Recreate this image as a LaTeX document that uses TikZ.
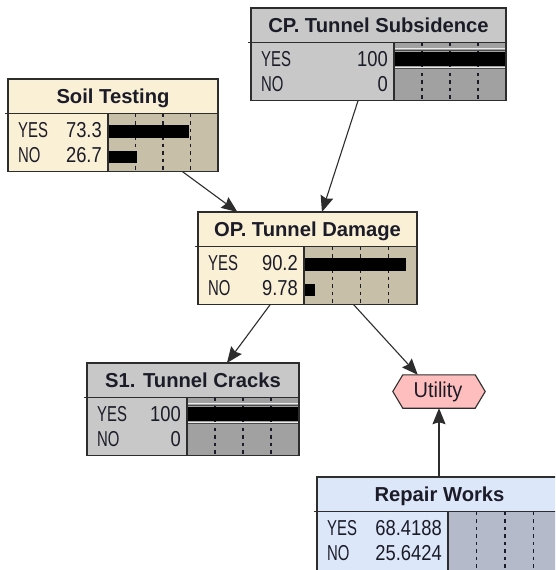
\documentclass[tikz,border=0pt]{standalone}
\usepackage{fontspec}
\setmainfont{Liberation Sans}
\newfontfamily\lblfont{Liberation Sans}[FakeStretch=0.69]
\newfontfamily\numfont{Liberation Sans}[FakeStretch=0.85]
\newfontfamily\valfont{Liberation Sans}[FakeStretch=0.93]
\usetikzlibrary{calc,arrows.meta}

\definecolor{creamhead}{RGB}{250,240,214}
\definecolor{creambar}{RGB}{200,191,168}
\definecolor{greyhead}{RGB}{200,200,200}
\definecolor{greybar}{RGB}{161,161,161}
\definecolor{bluehead}{RGB}{221,231,250}
\definecolor{bluebar}{RGB}{180,186,202}
\definecolor{utilfill}{RGB}{255,190,190}
\definecolor{edge}{RGB}{45,45,45}
\definecolor{ink}{RGB}{28,28,40}

\tikzset{
  boxline/.style={draw=edge, line width=1.2pt},
  tick/.style={draw=ink, line width=1.2pt, dash pattern=on 3.5pt off 4pt},
  arr/.style={draw=edge, line width=1.1pt, -{Stealth[length=16pt,width=13pt,inset=2pt]}},
  title/.style={font=\fontsize{20.2}{24}\selectfont\bfseries, text=ink, inner sep=0pt, anchor=base},
  lbl/.style={font=\fontsize{21.6}{24}\selectfont\lblfont, text=ink, inner sep=0pt, anchor=base west},
  num/.style={font=\fontsize{21.6}{24}\selectfont\numfont, text=ink, inner sep=0pt, anchor=base east},
}

% height of a belief box
\newcommand\boxheight{92.5}

% #1 name, #2 top-left corner, #3 width, #4 width of the state column,
% #5 title, #6 colour scheme, #7 YES value, #8 NO value
\newcommand\beliefnode[8]{%
  \node[fill=#6head, draw=none, minimum width=#3pt, minimum height=\boxheight pt,
        anchor=north west, inner sep=0pt, outer sep=0pt] (#1) at (#2) {};
  \coordinate (#1-hl) at ($(#1.north west)+(0,-34.5)$);
  \coordinate (#1-hr) at ($(#1.north east)+(0,-34.5)$);
  \coordinate (#1-bl) at ($(#1-hl)+(#4,0)$);
  \coordinate (#1-bb) at ($(#1.south west)+(#4,0)$);
  \fill[#6bar] (#1-bl) rectangle (#1.south east);
  \foreach \f in {0.25,0.5,0.75}
    \draw[tick] ($(#1-bl)!\f!(#1-hr)$) -- ($(#1-bb)!\f!(#1.south east)$);
  \node[title] (#1-title) at ($(#1.north)+(0,-24)$) {#5};
  \node[lbl] (#1-yes) at ($(#1-hl)+(10,-23.5)$) {YES};
  \node[lbl] (#1-no) at ($(#1-hl)+(10,-48.5)$) {NO};
  \node[num] (#1-yesv) at ($(#1-bl)+(-6,-23.5)$) {#7};
  \node[num] (#1-nov) at ($(#1-bl)+(-6,-48.5)$) {#8};
}

% outline drawn after the bars
\newcommand\beliefframe[1]{%
  \draw[boxline] (#1.north west) rectangle (#1.south east);
  \draw[boxline] ($(#1-hl)+(-3,0)$) -- (#1-hr);
  \draw[boxline] (#1-bl) -- (#1-bb);
}

% #1 node, #2 row (0 = YES, 1 = NO), #3 probability as a fraction
\newcommand\probbar[3]{%
  \fill[black] ($(#1-bl)+(0,{-11.5-25.5*#2})$) rectangle ($(#1-bl)!#3!(#1-hr)+(0,{-24-25.5*#2})$);
}

% a state set by evidence: full black bar in a sunken frame
\newcommand\evidbar[1]{%
  \fill[black] ($(#1-bl)+(0,-9.7)$) rectangle ($(#1-hr)+(0,-23.7)$);
  \draw[white!80!greybar, line width=0.9pt] ($(#1-bl)+(0,-6.3)$) -- ($(#1-hr)+(0,-6.3)$);
  \draw[black!70, line width=0.8pt] ($(#1-bl)+(0,-8)$) -- ($(#1-hr)+(0,-8)$);
  \draw[white!80!greybar, line width=0.9pt] ($(#1-bl)+(0,-24.7)$) -- ($(#1-hr)+(0,-24.7)$);
  \draw[black!70, line width=0.8pt] ($(#1-bl)+(0,-26.1)$) -- ($(#1-hr)+(0,-26.1)$);
}

\begin{document}
\begin{tikzpicture}[x=1pt,y=1pt]
  \useasboundingbox (0,0) rectangle (555,-570);
  \fill[white] (0,0) rectangle (555,-570);
  \clip (0,0) rectangle (555,-570);

  % Soil Testing
  \beliefnode{soil}{8,-79}{210}{100}{Soil Testing}{cream}{73.3}{26.7}
  \probbar{soil}{0}{0.733}
  \probbar{soil}{1}{0.267}
  \beliefframe{soil}

  % CP. Tunnel Subsidence
  \beliefnode{cp}{251,-8}{255}{143}{CP. Tunnel Subsidence}{grey}{100}{0}
  \evidbar{cp}
  \beliefframe{cp}

  % OP. Tunnel Damage
  \beliefnode{op}{198,-212}{219}{106}{OP. Tunnel Damage}{cream}{90.2}{9.78}
  \probbar{op}{0}{0.902}
  \probbar{op}{1}{0.0978}
  \beliefframe{op}

  % S1. Tunnel Cracks
  \beliefnode{s1}{87,-363}{212}{100}{S1. Tunnel Cracks}{grey}{100}{0}
  \evidbar{s1}
  \beliefframe{s1}

  % Repair Works (decision); its lower edge runs past the page
  \renewcommand\boxheight{100}
  \beliefnode{repair}{317,-477}{245}{131}{Repair Works}{blue}{68.4188}{25.6424}
  \beliefframe{repair}

  % Utility (value node)
  \node[minimum width=92pt, minimum height=33pt, inner sep=0pt] (utility) at (439,-391.5) {};
  \filldraw[fill=utilfill, draw=edge, line width=1.1pt]
    (utility.west) -- ([xshift=10pt]utility.north west) -- ([xshift=-10pt]utility.north east)
    -- (utility.east) -- ([xshift=-10pt]utility.south east) -- ([xshift=10pt]utility.south west) -- cycle;
  \node[font=\fontsize{21.5}{24}\selectfont\valfont, text=ink, inner sep=0pt, anchor=base] (utility-text)
    at ($(utility.south)+(-1,11)$) {Utility};

  % links
  \draw[arr] ($(soil.south west)!0.83!(soil.south east)$) -- ($(op.north west)!0.18!(op.north east)$);
  \draw[arr] ($(cp.south west)!0.42!(cp.south east)$) -- ($(op.north west)!0.566!(op.north east)$);
  \draw[arr] ($(op.south west)!0.33!(op.south east)$) -- ($(s1.north west)!0.66!(s1.north east)$);
  \draw[arr] ($(op.south west)!0.71!(op.south east)$) -- ($(utility.north west)!0.27!(utility.north east)$);
  \draw[arr] (utility.south |- repair.north) -- (utility.south);
\end{tikzpicture}
\end{document}
